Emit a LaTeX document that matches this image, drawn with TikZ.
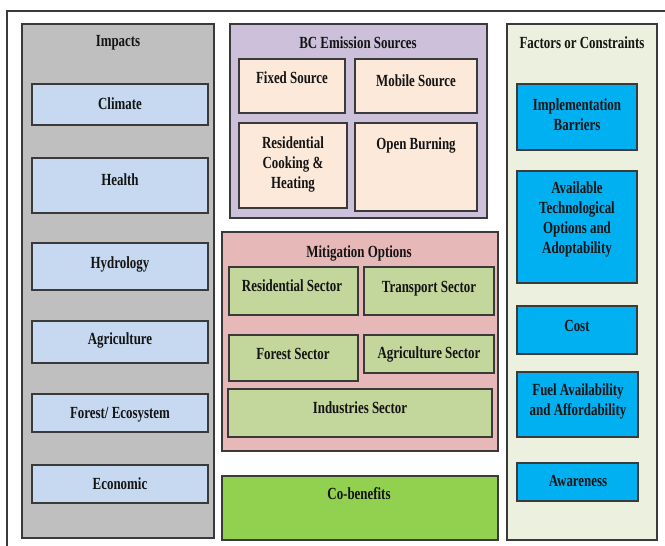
\documentclass[tikz,border=0pt]{standalone}
\usepackage{fontspec}
\newfontfamily\diafont{Liberation Serif}[FakeStretch=0.76, BoldFont={Liberation Serif Bold}, BoldFeatures={FakeStretch=0.76}]
\definecolor{impgray}{HTML}{BFBFBF}
\definecolor{impblue}{HTML}{C6D9F0}
\definecolor{bcpurple}{HTML}{CCC0DA}
\definecolor{bcpeach}{HTML}{FDE9D9}
\definecolor{mitpink}{HTML}{E6B9B8}
\definecolor{mitgreen}{HTML}{C3D69B}
\definecolor{cogreen}{HTML}{92D050}
\definecolor{facpale}{HTML}{EBF1DE}
\definecolor{facblue}{HTML}{00B0F0}
\definecolor{edge}{HTML}{3A3A3A}
\tikzset{
  panel/.style={draw=edge, line width=1.3pt, rectangle, inner sep=0pt, outer sep=0pt},
  ibox/.style={draw=edge, line width=1.1pt, rectangle, inner sep=0pt, outer sep=0pt},
  txt/.style={font=\diafont\fontsize{17}{20}\selectfont\bfseries, align=center, inner sep=0pt, text=black!92},
}
% name, style, x1, y1, x2, y2
\newcommand\rbox[6]{%
  \node[#2, minimum width={(#5-#3)*1pt}, minimum height={(#6-#4)*1pt}] (#1) at ({(#3+#5)/2},{(#4+#6)/2}) {};}
% name, x, y, text
\newcommand\tlabel[4]{\node[txt] (#1) at (#2,#3) {#4};}
\begin{document}
\begin{tikzpicture}[x=1pt,y=-1pt]
\useasboundingbox (0,0) rectangle (665,546);
% outer frame (partly cut)
\coordinate (fa) at (7,546);
\coordinate (fb) at (7,11);
\coordinate (fc) at (665,11);
\draw[edge, line width=1.3pt] (fa) -- (fb) -- (fc);

% Impacts
\rbox{imp}{panel, fill=impgray}{22}{24}{214}{538}
\tlabel{impT}{118}{43}{Impacts}
\rbox{clim}{ibox, fill=impblue}{32}{84}{208}{125}
\tlabel{climT}{120}{104}{Climate}
\rbox{heal}{ibox, fill=impblue}{32}{158}{208}{213}
\tlabel{healT}{120}{180}{Health}
\rbox{hydr}{ibox, fill=impblue}{32}{243}{208}{290}
\tlabel{hydrT}{120}{264}{Hydrology}
\rbox{agri}{ibox, fill=impblue}{32}{321}{208}{363}
\tlabel{agriT}{120}{340}{Agriculture}
\rbox{fore}{ibox, fill=impblue}{32}{394}{208}{432}
\tlabel{foreT}{120}{415}{Forest/ Ecosystem}
\rbox{econ}{ibox, fill=impblue}{32}{465}{208}{503}
\tlabel{econT}{120}{484}{Economic}

% BC Emission Sources
\rbox{bc}{panel, fill=bcpurple}{230}{24}{487}{218}
\tlabel{bcT}{358}{43}{BC Emission Sources}
\rbox{fix}{ibox, fill=bcpeach}{239}{59}{345}{113}
\tlabel{fixT}{292}{78}{Fixed Source}
\rbox{mob}{ibox, fill=bcpeach}{355}{59}{477}{113}
\tlabel{mobT}{416}{81}{Mobile Source}
\rbox{res}{ibox, fill=bcpeach}{239}{123}{347}{208}
\tlabel{resT}{293}{164}{Residential\\Cooking \&\\Heating}
\rbox{opb}{ibox, fill=bcpeach}{355}{123}{477}{211}
\tlabel{opbT}{416}{145}{Open Burning}

% Mitigation Options
\rbox{mit}{panel, fill=mitpink}{222}{232}{498}{451}
\tlabel{mitT}{359}{253}{Mitigation Options}
\rbox{rsec}{ibox, fill=mitgreen}{229}{267}{358}{315}
\tlabel{rsecT}{292}{286}{Residential Sector}
\rbox{tsec}{ibox, fill=mitgreen}{364}{267}{494}{315}
\tlabel{tsecT}{429}{289}{Transport Sector}
\rbox{fsec}{ibox, fill=mitgreen}{229}{335}{358}{381}
\tlabel{fsecT}{293}{354}{Forest Sector}
\rbox{asec}{ibox, fill=mitgreen}{364}{335}{494}{373}
\tlabel{asecT}{429}{354}{Agriculture Sector}
\rbox{isec}{ibox, fill=mitgreen}{228}{389}{492}{437}
\tlabel{isecT}{360}{408}{Industries Sector}

% Co-benefits
\rbox{cob}{panel, fill=cogreen}{222}{476}{498}{540}
\tlabel{cobT}{359}{494}{Co-benefits}

% Factors or Constraints
\rbox{fac}{panel, fill=facpale}{507}{24}{657}{540}
\tlabel{facT}{582}{43}{Factors or Constraints}
\rbox{impl}{ibox, fill=facblue}{517}{84}{637}{150}
\tlabel{implT}{577}{115}{Implementation\\Barriers}
\rbox{avail}{ibox, fill=facblue}{517}{171}{637}{283}
\tlabel{availT}{577}{219}{Available\\Technological\\Options and\\Adoptability}
\rbox{cost}{ibox, fill=facblue}{517}{306}{637}{354}
\tlabel{costT}{577}{326}{Cost}
\rbox{fuel}{ibox, fill=facblue}{517}{372}{638}{437}
\tlabel{fuelT}{578}{401}{Fuel Availability\\and Affordability}
\rbox{awar}{ibox, fill=facblue}{517}{463}{638}{501}
\tlabel{awarT}{578}{481}{Awareness}
\end{tikzpicture}
\end{document}
